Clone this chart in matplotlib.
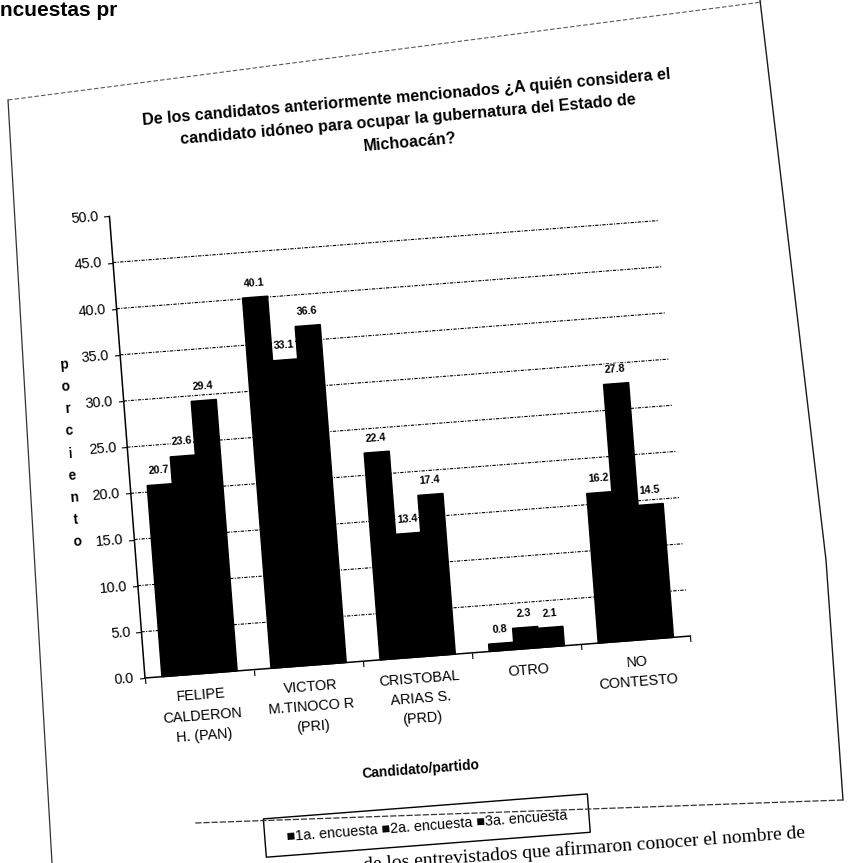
import numpy as np
import matplotlib
matplotlib.use("Agg")
import matplotlib.pyplot as plt
from matplotlib.transforms import Affine2D
from matplotlib import font_manager, ticker
from matplotlib.patches import Rectangle
from matplotlib.lines import Line2D
import mpl_toolkits.axisartist.floating_axes as floating_axes
from mpl_toolkits.axisartist.grid_finder import FixedLocator

# ---------------- data ----------------
categories = ["FELIPE\nCALDERON\nH. (PAN)", "VICTOR\nM.TINOCO R\n(PRI)",
              "CRISTOBAL\nARIAS S.\n(PRD)", "OTRO", "NO\nCONTESTO"]
series_names = ["1a. encuesta", "2a. encuesta", "3a. encuesta"]
encuesta1 = [20.7, 40.1, 22.4, 0.8, 16.2]
encuesta2 = [23.6, 33.1, 13.4, 2.3, 27.8]
encuesta3 = [29.4, 36.6, 17.4, 2.1, 14.5]
y_ticks = [0, 5, 10, 15, 20, 25, 30, 35, 40, 45, 50]
title = ("De los candidatos anteriormente mencionados ¿A quién considera el\n"
         "candidato idóneo para ocupar la gubernatura del Estado de\n"
         "Michoacán?")
x_title = "Candidato/partido"
y_title = "porciento"
page_top_text = "ncuestas pr"
page_bottom_text = "de los entrevistados que afirmaron conocer el nombre de"

series = [encuesta1, encuesta2, encuesta3]

# ---------------- fonts ----------------
names = {f.name for f in font_manager.fontManager.ttflist}
NARROW = "Liberation Sans Narrow" in names
SANS = ["Liberation Sans Narrow" if NARROW else "Liberation Sans", "DejaVu Sans"]
k = 1.0 if NARROW else 0.86   # size factor for condensed look
SANS_R = ["Liberation Sans", "DejaVu Sans"]
SERIF = ["Liberation Serif", "DejaVu Serif"]

# ---------------- geometry ----------------
W, H = 850, 863
ANG = 4.4
UX, UY = 109.4, 9.26
ORIGIN = (145, 678)  # pixel, from top-left

fig = plt.figure(figsize=(W / 100, H / 100), dpi=100)
fig.patch.set_facecolor("white")

ncat = len(categories)
tr = Affine2D().scale(UX, UY).rotate_deg(ANG)
corners = tr.transform([(0, 0), (ncat, 0), (ncat, y_ticks[-1]), (0, y_ticks[-1])])
bx0, by0 = corners.min(0)
bx1, by1 = corners.max(0)
cx, cy = (bx0 + bx1) / 2, (by0 + by1) / 2
bw_, bh_ = (bx1 - bx0) * 1.02, (by1 - by0) * 1.02
ex0, ey0 = cx - bw_ / 2, cy - bh_ / 2
ox, oy = ORIGIN[0], H - ORIGIN[1]
rect = [(ox + ex0) / W, (oy + ey0) / H, bw_ / W, bh_ / H]

grid_helper = floating_axes.GridHelperCurveLinear(
    tr, extremes=(0, ncat, y_ticks[0], y_ticks[-1]),
    grid_locator1=FixedLocator(list(range(ncat + 1))),
    grid_locator2=FixedLocator(y_ticks),
    tick_formatter2=ticker.FormatStrFormatter("%.1f"))

ax = fig.add_axes(rect, axes_class=floating_axes.FloatingAxes, grid_helper=grid_helper)
ax.patch.set_facecolor("white")
ax.axis["top"].set_visible(False)
ax.axis["right"].set_visible(False)
for side in ["left", "bottom"]:
    a = ax.axis[side]
    a.line.set_linewidth(1.1)
    a.line.set_color("black")
    a.major_ticks.set_ticksize(4)
    a.major_ticks.set_tick_out(True)
    a.label.set_visible(False)
ax.axis["bottom"].major_ticklabels.set_visible(False)
lt = ax.axis["left"].major_ticklabels
lt.set_fontsize(12 * k)
lt.set_fontfamily(SANS)
lt.set_pad(4)

aux = ax.get_aux_axes(tr)

# gridlines
for v in y_ticks[1:-1]:
    aux.plot([0, ncat], [v, v], ls=(0, (3, 1.2, 1, 1.2)), color="black", lw=0.8, zorder=1)

# bars
bw = 0.23
xc = np.arange(ncat) + 0.5
for i, vals in enumerate(series):
    xpos = xc + (i - 1) * bw
    aux.bar(xpos, vals, width=bw, color="black", edgecolor="black", zorder=2 + 2 * i)
    for x, v in zip(xpos, vals):
        aux.text(x, v + 1.0, f"{v:.1f}", ha="center", va="bottom", rotation=ANG,
                 rotation_mode="anchor", fontsize=9 * k, fontweight="bold",
                 family=SANS, zorder=3 + 2 * i, clip_on=False,
                 bbox=dict(facecolor="white", edgecolor="none", pad=0.6))

# category labels
for x, lab in zip(xc, categories):
    aux.text(x, -1.6, lab, ha="center", va="top", rotation=ANG, rotation_mode="anchor",
             multialignment="center", fontsize=12 * k, family=SANS, linespacing=1.55,
             clip_on=False)

# axis titles
aux.text(2.45, -12.1, x_title, ha="center", va="center", rotation=ANG,
         rotation_mode="anchor", fontsize=11.5 * k, fontweight="bold", family=SANS,
         clip_on=False)
aux.text(-0.52, 24.8, "\n".join(y_title), ha="center", va="center", rotation=ANG,
         rotation_mode="anchor", fontsize=11.5 * k, fontweight="bold", family=SANS,
         linespacing=1.75, clip_on=False)

# legend (box + entries)
leg = Rectangle((0.98, -20.3), 2.97, 4.15, facecolor="white", edgecolor="black",
                lw=1.0, clip_on=False, zorder=5)
aux.add_patch(leg)
leg_txt = " ".join("\u25A0" + s for s in series_names)
aux.text(2.465, -18.25, leg_txt, ha="center", va="center", rotation=ANG,
         rotation_mode="anchor", fontsize=12 * k, family=SANS, clip_on=False, zorder=6)

# chart title
fig.text(408 / W, 1 - 120 / H, title, ha="center", va="center", rotation=5.0,
         rotation_mode="anchor", multialignment="center", fontsize=13.5 * k,
         fontweight="bold", family=SANS, linespacing=1.65)

# page elements: chart-area frame and surrounding document text
def px_line(pts, **kw):
    xs = [p[0] / W for p in pts]
    ys = [1 - p[1] / H for p in pts]
    fig.add_artist(Line2D(xs, ys, transform=fig.transFigure, **kw))

px_line([(8, 100), (762, 2)], color="0.35", lw=0.8, ls=(0, (4, 2)))
px_line([(8, 100), (52, 863)], color="0.2", lw=0.9)
px_line([(760, 0), (826, 560), (843, 800)], color="0.1", lw=1.0)
px_line([(843, 800), (195, 823)], color="0.2", lw=0.9, ls=(0, (5, 1.5)))

fig.text(0 / W, 1 - 16 / H, page_top_text, ha="left", va="baseline",
         fontsize=15, fontweight="bold", family=SANS_R)
fig.text(805 / W, 1 - 838 / H, page_bottom_text, ha="right", va="baseline",
         rotation=4.2, rotation_mode="anchor", fontsize=14, family=SERIF, zorder=0)

fig.savefig("out.png", dpi=100)
